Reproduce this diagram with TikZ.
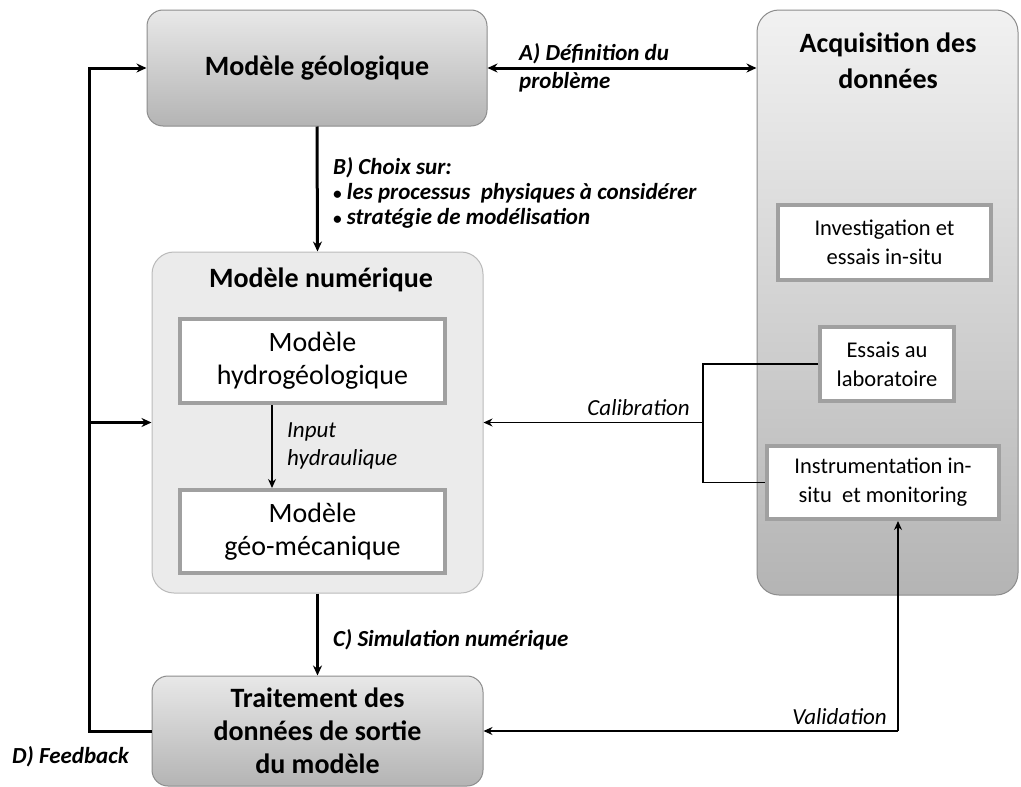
\documentclass[tikz,border=0pt]{standalone}
\usepackage{fontspec}
\setmainfont{Carlito}
\usetikzlibrary{arrows.meta}
\definecolor{boxline}{HTML}{8C8C8C}
\definecolor{innerline}{HTML}{A0A0A0}
\definecolor{shadetop}{HTML}{E8E8E8}
\definecolor{shadebot}{HTML}{B4B4B4}
\definecolor{numfill}{HTML}{EBEBEB}
\newcommand{\smallbullet}{{\fontsize{17}{17}\selectfont\textbullet}\ }
\begin{document}
\begin{tikzpicture}[x=1pt, y=-1pt,
    boxbase/.style = {draw = boxline, line width = 1pt, rounded corners = 16pt,
      align = center, inner sep = 0pt, font = \bfseries\fontsize{28}{33}\selectfont},
    outerbox/.style = {boxbase, top color = shadetop, bottom color = shadebot},
    innerbox/.style = {draw = innerline, line width = 4pt, fill = white, align = center,
      inner sep = 0pt},
    bigtext/.style = {font = \fontsize{28}{33}\selectfont},
    smalltext/.style = {font = \fontsize{22.5}{29}\selectfont},
    steplabel/.style = {font = \bfseries\itshape\fontsize{23}{25}\selectfont, align = left, inner sep = 0pt},
    flowlabel/.style = {font = \itshape\fontsize{23}{28}\selectfont, align = left, inner sep = 0pt},
    thickarrow/.style = {line width = 3pt, -{Stealth[length = 10pt, width = 9pt]}},
    thinarrow/.style = {line width = 1.3pt, -{Stealth[length = 9pt, width = 8pt]}}]
  \useasboundingbox (0,0) rectangle (1021,787);

  \node [outerbox, minimum width = 340pt, minimum height = 116pt] (geo) at (317,68) {Modèle géologique};
  \node [outerbox, rounded corners = 22pt, top color = shadetop!60!white, minimum width = 261pt,
    minimum height = 585pt] (acq) at (887.5,302.5) {};
  \node [font = \bfseries\fontsize{28}{36}\selectfont, align = center] (acqtitle) at (888,61) {Acquisition des\\données};
  \node [boxbase, rounded corners = 22pt, draw = boxline!60, fill = numfill,
    minimum width = 331pt, minimum height = 341pt] (num) at (317.5,422.5) {};
  \node [font = \bfseries\fontsize{28}{33}\selectfont] (numtitle) at (321,280) {Modèle numérique};
  \node [outerbox, minimum width = 331pt, minimum height = 110pt] (trait) at (317.5,731)
    {Traitement des\\données de sortie\\du modèle};

  \node [innerbox, bigtext, minimum width = 265pt, minimum height = 84pt] (hydro) at (312.5,361) {Modèle\\hydrogéologique};
  \node [innerbox, bigtext, minimum width = 265pt, minimum height = 83pt] (meca) at (312.5,531.5) {Modèle\\géo-mécanique};

  \node [innerbox, smalltext, minimum width = 213pt, minimum height = 75pt] (invest) at (884.5,242.5) {Investigation et\\essais in-situ};
  \node [innerbox, smalltext, minimum width = 134pt, minimum height = 74pt] (essais) at (887,364) {Essais au\\laboratoire};
  \node [innerbox, smalltext, minimum width = 232pt, minimum height = 73pt] (instr) at (883,482.5) {Instrumentation in-\\situ~ et monitoring};

  \draw [thickarrow, {Stealth[length = 10pt, width = 9pt]}-{Stealth[length = 10pt, width = 9pt]}] (geo.east) -- (acq.west |- geo.east);
  \node [steplabel, anchor = west, font = \bfseries\itshape\fontsize{23}{28}\selectfont] (deflabel) at (519,68) {A) Définition du\\problème};

  \draw [thickarrow] (geo.south) -- (num.north);
  \node [steplabel, anchor = north west] (choixlabel) at (333,157) {B) Choix sur:\\\smallbullet les processus~ physiques à considérer\\\smallbullet stratégie de modélisation};

  \draw [thinarrow] (hydro.south -| 272,0) -- (meca.north -| 272,0);
  \node [flowlabel, anchor = west] (inputlabel) at (287,446) {Input\\hydraulique};

  \draw [thickarrow] (num.south) -- (trait.north);
  \node [steplabel, anchor = west] (simlabel) at (333,640) {C) Simulation numérique};

  \coordinate (fbjoin) at (89,731);
  \draw [thickarrow] (trait.west) -- (fbjoin) |- (geo.west);
  \draw [thickarrow] (fbjoin |- num.west) -- (num.west);
  \node [steplabel, anchor = west] (fblabel) at (12,757) {D) Feedback};

  \coordinate (caljoin) at (703,422.5);
  \draw [line width = 1.3pt] (essais.west) -| (caljoin) |- (instr.west);
  \draw [thinarrow] (caljoin) -- (num.east);
  \node [flowlabel, anchor = east] (callabel) at (690,408) {Calibration};

  \coordinate (valjoin) at (898,731);
  \draw [thinarrow] (valjoin) -- (valjoin -| trait.east);
  \draw [thinarrow] (valjoin) -- (valjoin |- instr.south);
  \node [flowlabel, anchor = east] (vallabel) at (887,717) {Validation};
\end{tikzpicture}
\end{document}
